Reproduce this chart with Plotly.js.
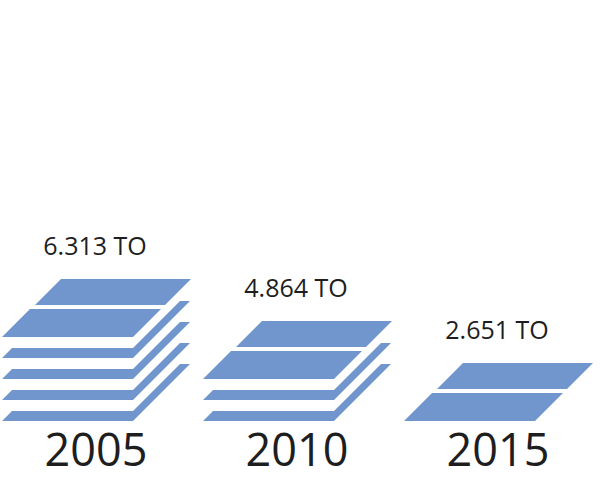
<!DOCTYPE html>
<html>
<head>
<meta charset="utf-8">
<script src="https://cdn.plot.ly/plotly-3.0.1.min.js"></script>
<style>html,body{margin:0;padding:0;background:#fff;}#chart{width:600px;height:480px;}</style>
</head>
<body>
<div id="chart"></div>
<script>
// Data
var years = ["2005", "2010", "2015"];
var tonnage = [6.313, 4.864, 2.651];
var valueLabels = ["6.313 TO", "4.864 TO", "2.651 TO"];

// Pictogram styling (pixel-like units)
var COLOR = "#7096CD";
var TEXT = "#1e1e1e";
var baseX = 2, stepX = 201, baseline = 421, stripStep = 21;
var W = 131, H1 = 26, H2 = 28, stripH = 57, thick = 10;
var topDX = 33, topDY = 32;

function para(x, y, w, h) {
  return {x: [x, x + w, x + w + h, x + h, x], y: [y, y, y - h, y - h, y]};
}
function strip(x, y) {
  return {
    x: [x, x + W, x + W + stripH, x + W + stripH - thick, x + W, x + thick, x],
    y: [y, y, y - stripH, y - stripH, y - thick, y - thick, y]
  };
}

var traces = [];
var lx = [], ly = [], yx = [], yy = [];
years.forEach(function (yr, i) {
  var n = Math.floor(tonnage[i]);
  var x0 = baseX + stepX * i;
  for (var k = 3; k <= n; k++) {
    var yb = baseline - stripStep * (n - k);
    var s = strip(x0, yb);
    traces.push({type: "scatter", mode: "lines", x: s.x, y: s.y, fill: "toself",
      fillcolor: COLOR, line: {width: 0, color: COLOR}, hoverinfo: "skip", showlegend: false});
  }
  var y2 = baseline - stripStep * (n - 2);
  var p2 = para(x0, y2, W, H2);
  traces.push({type: "scatter", mode: "lines", x: p2.x, y: p2.y, fill: "toself",
    fillcolor: COLOR, line: {width: 0, color: COLOR}, hoverinfo: "skip", showlegend: false});
  var y1 = y2 - topDY;
  var p1 = para(x0 + topDX, y1, W - 1, H1);
  traces.push({type: "scatter", mode: "lines", x: p1.x, y: p1.y, fill: "toself",
    fillcolor: COLOR, line: {width: 0, color: COLOR}, hoverinfo: "skip", showlegend: false});
  lx.push(x0 + 93); ly.push(y1 - H1 - 30);
  yx.push(x0 + 94); yy.push(455);
});

traces.push({type: "scatter", mode: "text", x: lx, y: ly, text: valueLabels,
  textposition: "middle center", textfont: {family: "Open Sans", size: 25, color: TEXT},
  hoverinfo: "skip", showlegend: false});
traces.push({type: "scatter", mode: "text", x: yx, y: yy, text: years,
  textposition: "middle center", textfont: {family: "Open Sans", size: 45, color: TEXT},
  hoverinfo: "skip", showlegend: false});

var layout = {
  width: 600, height: 480,
  margin: {l: 0, r: 0, t: 0, b: 0},
  paper_bgcolor: "#fff", plot_bgcolor: "#fff",
  xaxis: {range: [0, 600], visible: false, fixedrange: true},
  yaxis: {range: [480, 0], visible: false, fixedrange: true},
  showlegend: false
};
Plotly.newPlot("chart", traces, layout, {displayModeBar: false, staticPlot: true});
</script>
</body>
</html>
